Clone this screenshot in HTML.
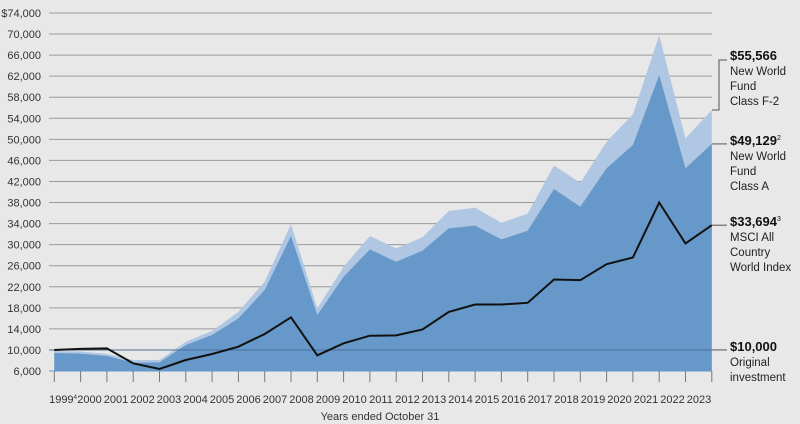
<!DOCTYPE html>
<html><head><meta charset="utf-8"><style>
html,body{margin:0;padding:0;background:#e8e8e8;}
svg{display:block;font-family:"Liberation Sans",sans-serif;}
</style></head><body>
<svg id="chart" width="800" height="424" viewBox="0 0 800 424" xmlns="http://www.w3.org/2000/svg">
<rect width="800" height="424" fill="#e8e8e8"/>
<g id="grid"></g><g id="areas"></g><g id="lines"></g><g id="axes"></g><g id="labels"></g>
</svg>
<script>
const years = ["1999","2000","2001","2002","2003","2004","2005","2006","2007","2008","2009","2010","2011","2012","2013","2014","2015","2016","2017","2018","2019","2020","2021","2022","2023"];
const yTicks = [6000,10000,14000,18000,22000,26000,30000,34000,38000,42000,46000,50000,54000,58000,62000,66000,70000,74000];
const fundF2 = [9800,9700,9250,8100,8100,11560,13590,17260,22960,33900,17900,25810,31640,29290,31400,36400,37000,34150,35900,45000,41750,49550,54740,69800,50180,55566];
const fundA = [9425,9300,8850,7600,7650,10940,12840,16000,21380,31640,16640,23910,29100,26760,28860,33100,33600,31000,32650,40570,37200,44500,48930,62200,44500,49129];
const msci = [10000,10200,10300,7460,6380,8090,9230,10620,13030,16200,8980,11260,12700,12760,13890,17230,18630,18630,18950,23380,23250,26290,27560,38000,30220,33694];

const NS="http://www.w3.org/2000/svg";
const X0=54.3, DX=26.3, Y0=371, K=0.005265;
const xs=i=>X0+DX*i;
const ys=v=>Y0-(v-6000)*K;
function mk(tag,attrs,parent){const e=document.createElementNS(NS,tag);for(const k in attrs)e.setAttribute(k,attrs[k]);parent.appendChild(e);return e;}
const grid=document.getElementById('grid'),areas=document.getElementById('areas'),lines=document.getElementById('lines'),axes=document.getElementById('axes'),labels=document.getElementById('labels');

yTicks.forEach((t,i)=>{
  const y=ys(t);
  const gl=mk('line',{x1:49,x2:712,y1:y,y2:y,stroke:'#9a9a9a','stroke-width':1},grid);
  
  
  const tx=mk('text',{x:41,y:y+4,'text-anchor':'end','font-size':11,fill:'#333'},axes);
  tx.textContent=(i===yTicks.length-1?'$':'')+t.toLocaleString('en-US');
  
  
});

function areaPath(arr){let d='M'+xs(0)+','+ys(6000);arr.forEach((v,i)=>{d+=' L'+xs(i)+','+ys(v);});d+=' L'+xs(arr.length-1)+','+ys(6000)+' Z';return d;}
const a1=mk('path',{d:areaPath(fundF2),fill:'#b0c7e3'},areas);


const a2=mk('path',{d:areaPath(fundA),fill:'#6699c9'},areas);



const base=mk('line',{x1:49,x2:712,y1:ys(10000),y2:ys(10000),stroke:'#4a6f95','stroke-width':1},lines);


const ml=mk('polyline',{points:msci.map((v,i)=>xs(i)+','+ys(v)).join(' '),fill:'none',stroke:'#111','stroke-width':2,'stroke-linejoin':'miter'},lines);



const ax=mk('line',{x1:49,x2:712,y1:Y0,y2:Y0,stroke:'#6699c9','stroke-width':1},axes);


for(let i=0;i<fundA.length;i++){
  const tk=mk('line',{x1:xs(i),x2:xs(i),y1:Y0,y2:Y0+11,stroke:'#777','stroke-width':1},axes);
  
  
}
years.forEach((yr,i)=>{
  const cx=63+(699-63)*i/(years.length-1);
  const tx=mk('text',{x:cx,y:403,'text-anchor':'middle','font-size':11,fill:'#333'},axes);
  tx.textContent=yr;
  if(i===0){const s=mk('tspan',{'font-size':6,dy:-4},tx);s.textContent='4';}
  
  
});
const xt=mk('text',{x:380,y:420,'text-anchor':'middle','font-size':11,fill:'#333'},axes);
xt.textContent='Years ended October 31';



function conn(d,name){const p=mk('path',{d:d,fill:'none',stroke:'#555','stroke-width':1},labels);}
conn('M712,'+ys(fundF2[25])+' H719 V60 H727','connector-f2');
conn('M712,'+ys(fundA[25])+' H727','connector-a');
conn('M712,'+ys(msci[25])+' H727','connector-msci');
conn('M712,'+ys(10000)+' H727','connector-original');

function block(y,val,sup,lines,name){
  const g=mk('g',{},labels);
  
  
  const t=mk('text',{x:730,y:y,'font-size':13,'font-weight':'bold',fill:'#111'},g);
  t.textContent=val;
  if(sup){const s=mk('tspan',{'font-size':7,dy:-5,'font-weight':'normal'},t);s.textContent=sup;}
  lines.forEach((l,i)=>{const tt=mk('text',{x:730,y:y+15+i*15,'font-size':11.5,fill:'#222'},g);tt.textContent=l;});
}
block(60,'$55,566','',['New World','Fund','Class F-2'],'label-class-f2');
block(145,'$49,129','2',['New World','Fund','Class A'],'label-class-a');
block(226,'$33,694','3',['MSCI All','Country','World Index'],'label-msci');
block(351,'$10,000','',['Original','investment'],'label-original-investment');
</script>
</body></html>
